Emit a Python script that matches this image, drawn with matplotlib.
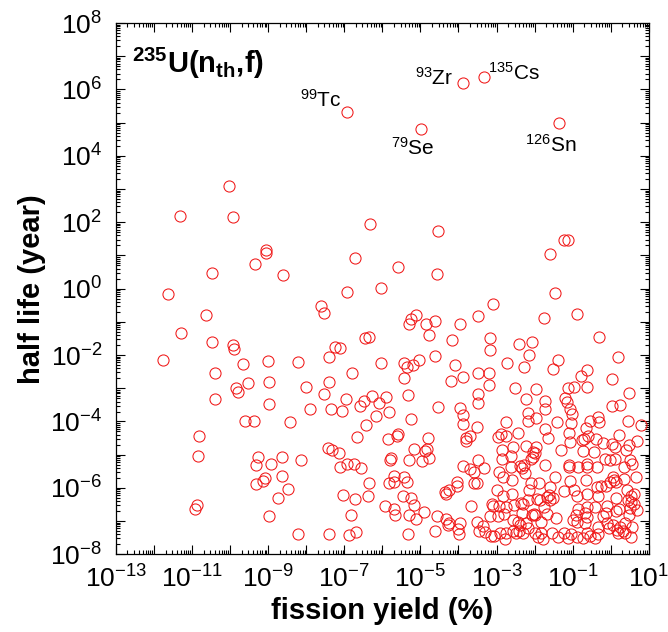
import numpy as np
import matplotlib
matplotlib.use("Agg")
import matplotlib.pyplot as plt
from matplotlib.ticker import FixedLocator, FuncFormatter, LogLocator, NullFormatter

plt.rcParams['font.family'] = ['Liberation Sans', 'DejaVu Sans']
plt.rcParams['mathtext.fontset'] = 'custom'
plt.rcParams['mathtext.rm'] = 'Liberation Sans'
plt.rcParams['mathtext.it'] = 'Liberation Sans:italic'
plt.rcParams['mathtext.bf'] = 'Liberation Sans:bold'

# log10(fission yield %) and log10(half life / year)
log_yield = [
    -10.02, -11.32, -9.92, -9.07, -9.07, -9.35, -10.48, -8.61, -11.64, -10.63,
    -11.30, -10.48, -9.92, -9.89, -11.77, -9.66, -9.01, -8.22, -10.39,
    -9.52, -9.85, -9.80, -8.97, -8.01, -10.41, -8.98, -7.90, -9.60, -9.37,
    -8.42, -10.83, -10.84, -9.26, -9.32, -8.94, -8.65, -8.14, -8.64, -9.08,
    -9.14, -9.32, -8.49, -8.73, -10.87, -10.92, -8.98, -8.22,
    -6.33, -4.55, -6.72, -5.58, -4.56, -6.94, -6.04, -7.61, -7.54, -5.12,
    -5.24, -5.30, -4.85, -4.62, -3.97, -3.49, -4.78, -4.18, -6.45, -6.34,
    -7.24, -7.12, -7.39, -6.04, -5.42, -5.36, -5.20, -5.04, -4.61, -4.09,
    -6.79,
    -5.43, -4.20, -3.89, -3.49, -7.41, -7.54, -6.96, -6.27, -6.47, -6.59,
    -6.09, -5.91, -5.33, -7.34, -7.06, -5.82, -6.16, -4.53, -3.95, -3.89,
    -3.49, -3.49, -5.24, -6.43, -3.89, -3.52, -6.67, -5.85, -5.62, -5.58,
    -4.80, -3.81, -3.70, -3.80, -7.44, -7.33, -7.13, -5.17, -4.89, -4.83,
    -4.77, -4.95, -5.31, -5.78, -5.80, -6.94, -6.74, -7.11, -6.55, -3.89,
    -3.70, -3.60, -3.49, -5.42, -5.69, -5.69, -5.83, -5.36, -6.34, -4.05,
    -4.05, -4.24, -4.35, -4.33, -3.59, -3.50, -7.03, -6.72, -6.38, -5.46,
    -5.24, -5.16, -5.94, -5.69, -5.68, -6.82, -5.30, -5.11, -4.90, -4.56,
    -4.33, -4.26, -4.28, -3.97, -4.02, -3.99, -3.68, -3.51, -3.46, -7.41,
    -6.87, -6.69, -5.32, -4.61,
    -1.22, -1.13, -1.59, -1.46, -3.10, -1.75, -0.89, -3.18, -0.31, -2.41,
    -2.07, -3.18, -2.15, -2.72, -2.29, -1.38, 0.19, -1.51, -0.63,
    -0.78, -3.19, -3.21, -2.51, -1.97, -1.11, -0.96, -0.61, 0.04, 0.47,
    -2.23, -1.73, -1.72, -1.20, -1.16, -1.08, -1.02, 0.03, 0.25, -2.16,
    -2.16, -1.95, -2.76, -1.42, -1.05, -0.32, -0.53, -0.30, 0.46, 0.79,
    -1.72, -0.65, -2.97, -2.88, -2.76, -2.44, -1.65, -1.09, -1.07, -0.75,
    -0.69, -0.59, -0.39, -0.19, 0.04, 0.12, 0.22, 0.49, 0.68, -2.57,
    -2.85, -2.63, -2.22, -1.97, -1.99, -1.30, -0.72, -0.44, 0.40, -2.85,
    -3.32, -2.93, -2.83, -2.63, -2.38, -2.28, -2.32, -2.24, -2.09, -2.04,
    -2.03, -2.60, -1.72, -1.46, -1.10, -1.09, -0.85, -0.63, -0.63, -0.37,
    -0.15, -0.02, 0.11, 0.35, 0.51, 0.55, 0.66, 0.05, 0.09, -0.02,
    0.13, 0.34, -1.07, -0.65, -0.26, -0.13, -0.37, -2.98, -2.84, -2.59,
    -2.10, -1.87, -2.14, -2.18, -1.59, -1.63, -1.67, -1.23, -0.96, -0.89,
    -0.61, -0.34, 0.42, 0.62, 0.53, 0.13, 0.46, 0.62, 0.54, -3.12,
    -3.09, -2.93, -2.76, -2.54, -2.36, -2.30, -1.94, -1.85, -1.75, -1.59,
    -1.51, -0.85, -0.61, -0.41, -0.10, 0.13, 0.22, 0.51, 0.68, 0.49,
    -3.35, -3.17, -2.97, -2.80, -2.57, -2.44, -2.38, -2.34, -2.23, -2.07,
    -2.01, -1.98, -1.84, -1.66, -1.44, -0.98, -0.89, -0.91, -0.67, -0.63,
    -0.67, -0.32, -0.19, -0.13, -0.09, 0.07, 0.16, 0.25, 0.33, 0.38,
    0.57, 0.53, -3.31, -3.15, -3.06, -2.91, -2.78, -2.76, -2.56, -2.48,
    -2.41, -2.30, -2.16, -1.99, -1.90, -1.83, -1.77, -1.55, -1.38, -1.23,
    -1.11, -1.05, -0.89, -0.72, -0.61, -0.54, -0.41, -0.34, -0.04, 0.20,
    0.38,
]
log_halflife = [
    3.09, 2.19, 2.17, 1.16, 1.06, 0.73, 0.46, 0.40, -0.17, -0.80,
    -1.33, -1.61, -1.70, -1.83, -2.16, -2.27, -2.17, -2.22, -2.53,
    -2.83, -2.98, -3.11, -2.82, -2.97, -3.32, -3.48, -3.61, -4.00, -3.99,
    -4.02, -4.44, -5.04, -5.08, -5.31, -5.28, -5.07, -5.17, -5.64, -5.71,
    -5.79, -5.89, -6.04, -6.29, -6.50, -6.63, -6.84, -7.39,
    1.95, 1.73, 0.92, 0.66, 0.43, -0.11, 0.01, -0.52, -0.73, -0.80,
    -0.92, -1.06, -1.05, -0.98, -1.05, -0.82, -1.40, -1.54, -1.50, -1.45,
    -1.75, -1.78, -2.06, -2.23, -2.23, -2.35, -2.30, -2.15, -2.02, -2.30,
    -2.55,
    -2.70, -2.77, -2.65, -2.53, -2.82, -3.18, -3.33, -3.23, -3.38, -3.53,
    -3.45, -3.27, -3.21, -3.63, -3.69, -3.70, -3.83, -3.55, -3.59, -3.81,
    -3.18, -3.45, -3.92, -4.11, -4.09, -4.16, -4.47, -4.52, -4.44, -4.38,
    -4.50, -4.51, -4.44, -4.59, -4.81, -4.87, -4.96, -4.83, -4.88, -4.83,
    -5.09, -5.19, -5.16, -5.11, -5.16, -5.29, -5.28, -5.36, -5.41, -5.35,
    -5.43, -5.53, -5.16, -5.67, -5.64, -5.83, -5.86, -5.83, -5.86, -5.82,
    -5.95, -6.07, -6.11, -6.17, -5.86, -5.85, -6.21, -6.33, -6.24, -6.23,
    -6.31, -6.50, -6.53, -6.65, -6.82, -6.83, -6.83, -6.94, -6.72, -6.84,
    -6.94, -7.05, -7.13, -7.05, -7.23, -7.40, -6.54, -7.04, -7.29, -7.40,
    -7.43, -7.33, -7.38, -7.29,
    1.48, 1.46, 1.03, -0.12, -0.46, -0.88, -0.77, -1.49, -1.47, -1.68,
    -1.60, -1.86, -2.00, -2.23, -2.35, -2.15, -2.07, -2.43, -2.45,
    -2.63, -2.53, -2.90, -2.99, -3.02, -3.00, -2.95, -2.97, -2.73, -3.15,
    -3.33, -3.39, -3.61, -3.30, -3.41, -3.61, -3.76, -3.53, -3.51, -3.74,
    -3.98, -3.88, -4.03, -4.03, -4.06, -3.86, -3.98, -4.03, -3.99, -4.11,
    -4.24, -4.19, -4.48, -4.39, -4.44, -4.36, -4.51, -4.34, -4.61, -4.56,
    -4.53, -4.44, -4.53, -4.66, -4.69, -4.78, -4.41, -4.71, -4.58, -4.78,
    -4.86, -5.03, -4.74, -4.76, -4.96, -4.86, -4.89, -4.93, -4.86, -5.13,
    -5.39, -5.52, -5.67, -5.36, -5.34, -5.31, -5.41, -5.55, -5.13, -5.06,
    -4.93, -5.77, -5.31, -5.68, -5.31, -5.38, -5.36, -5.29, -5.36, -5.38,
    -5.12, -5.16, -5.13, -5.36, -5.16, -5.29, -5.67, -5.68, -5.77, -5.82,
    -5.82, -5.73, -5.79, -5.77, -5.95, -5.93, -5.97, -6.07, -6.25, -6.17,
    -5.85, -5.86, -6.07, -6.35, -5.97, -6.22, -6.27, -6.10, -6.05, -6.25,
    -6.19, -6.25, -6.07, -6.17, -6.24, -6.30, -6.35, -6.47, -6.42, -6.49,
    -6.54, -6.53, -6.57, -6.50, -6.44, -6.49, -6.32, -6.37, -6.57, -6.35,
    -6.29, -6.62, -6.57, -6.57, -6.53, -6.70, -6.62, -6.60, -6.67, -6.82,
    -7.14, -6.85, -6.85, -6.79, -6.97, -7.02, -7.12, -6.77, -7.07, -6.82,
    -6.79, -6.82, -7.04, -6.79, -6.90, -6.97, -7.04, -6.82, -6.77, -6.87,
    -7.07, -7.19, -6.85, -6.77, -7.05, -7.12, -7.27, -7.17, -7.29, -7.07,
    -7.17, -7.49, -7.32, -7.45, -7.45, -7.37, -7.54, -7.37, -7.30, -7.37,
    -7.29, -7.37, -7.22, -7.37, -7.47, -7.35, -7.54, -7.37, -7.47, -7.37,
    -7.50, -7.39, -7.47, -7.52, -7.37, -7.45, -7.52, -7.39, -7.22, -7.37,
    -7.35,
]

# labelled long-lived nuclides
nuclides = [r'$^{99}$Tc', r'$^{79}$Se', r'$^{93}$Zr', r'$^{135}$Cs', r'$^{126}$Sn']
nuc_log_yield = [-6.93, -4.98, -3.87, -3.32, -1.37]
nuc_log_halflife = [5.33, 4.82, 6.19, 6.38, 5.00]
nuc_offsets = [(-3.5, 3.5), (-22, -19), (-7, -1.5), (3, -2.5), (-24, -21)]
nuc_ha = ['right', 'left', 'right', 'left', 'left']

x = 10.0 ** np.array(log_yield + nuc_log_yield)
y = 10.0 ** np.array(log_halflife + nuc_log_halflife)

fig = plt.figure(figsize=(6.68, 6.32), dpi=100)
ax = fig.add_axes([0.1737, 0.1229, 0.7974, 0.8407])
ax.plot(x, y, ls='none', marker='o', ms=8, mfc='none', mec='#f01818', mew=0.75)

ax.set_xscale('log')
ax.set_yscale('log')
ax.set_xlim(1e-13, 1e1)
ax.set_ylim(1e-8, 1e8)

ax.xaxis.set_major_locator(FixedLocator(10.0 ** np.arange(-13, 2)))
ax.yaxis.set_major_locator(FixedLocator(10.0 ** np.arange(-8, 9)))
ax.xaxis.set_minor_locator(LogLocator(base=10, subs=np.arange(2, 10), numticks=200))
ax.yaxis.set_minor_locator(LogLocator(base=10, subs=np.arange(2, 10), numticks=200))
ax.xaxis.set_minor_formatter(NullFormatter())
ax.yaxis.set_minor_formatter(NullFormatter())


def fmt_odd(v, pos):
    e = int(round(np.log10(v)))
    return r'$\mathregular{10^{%d}}$' % e if e % 2 else ''


def fmt_even(v, pos):
    e = int(round(np.log10(v)))
    return r'$\mathregular{10^{%d}}$' % e if e % 2 == 0 else ''


ax.xaxis.set_major_formatter(FuncFormatter(fmt_odd))
ax.yaxis.set_major_formatter(FuncFormatter(fmt_even))

ax.tick_params(which='both', direction='in', top=True, right=True, width=0.8)
ax.tick_params(which='major', length=6.5, labelsize=19)
ax.tick_params(axis='x', which='major', pad=8)
ax.tick_params(axis='y', which='major', pad=10)
ax.tick_params(which='minor', length=3)
for s in ax.spines.values():
    s.set_linewidth(0.9)

ax.set_xlabel('fission yield (%)', fontsize=21, fontweight='bold', labelpad=3)
ax.set_ylabel('half life (year)', fontsize=21, fontweight='bold', labelpad=3)

ax.text(0.03, 0.905, r'$\mathbf{^{235}U(n_{th}{,}f)}$', transform=ax.transAxes,
        fontsize=21, ha='left', va='baseline')

for name, lx, ly, off, ha in zip(nuclides, nuc_log_yield, nuc_log_halflife, nuc_offsets, nuc_ha):
    ax.annotate(name, xy=(10.0 ** lx, 10.0 ** ly), xytext=off, textcoords='offset points',
                ha=ha, va='baseline', fontsize=15)

fig.savefig('out.png', dpi=100)
